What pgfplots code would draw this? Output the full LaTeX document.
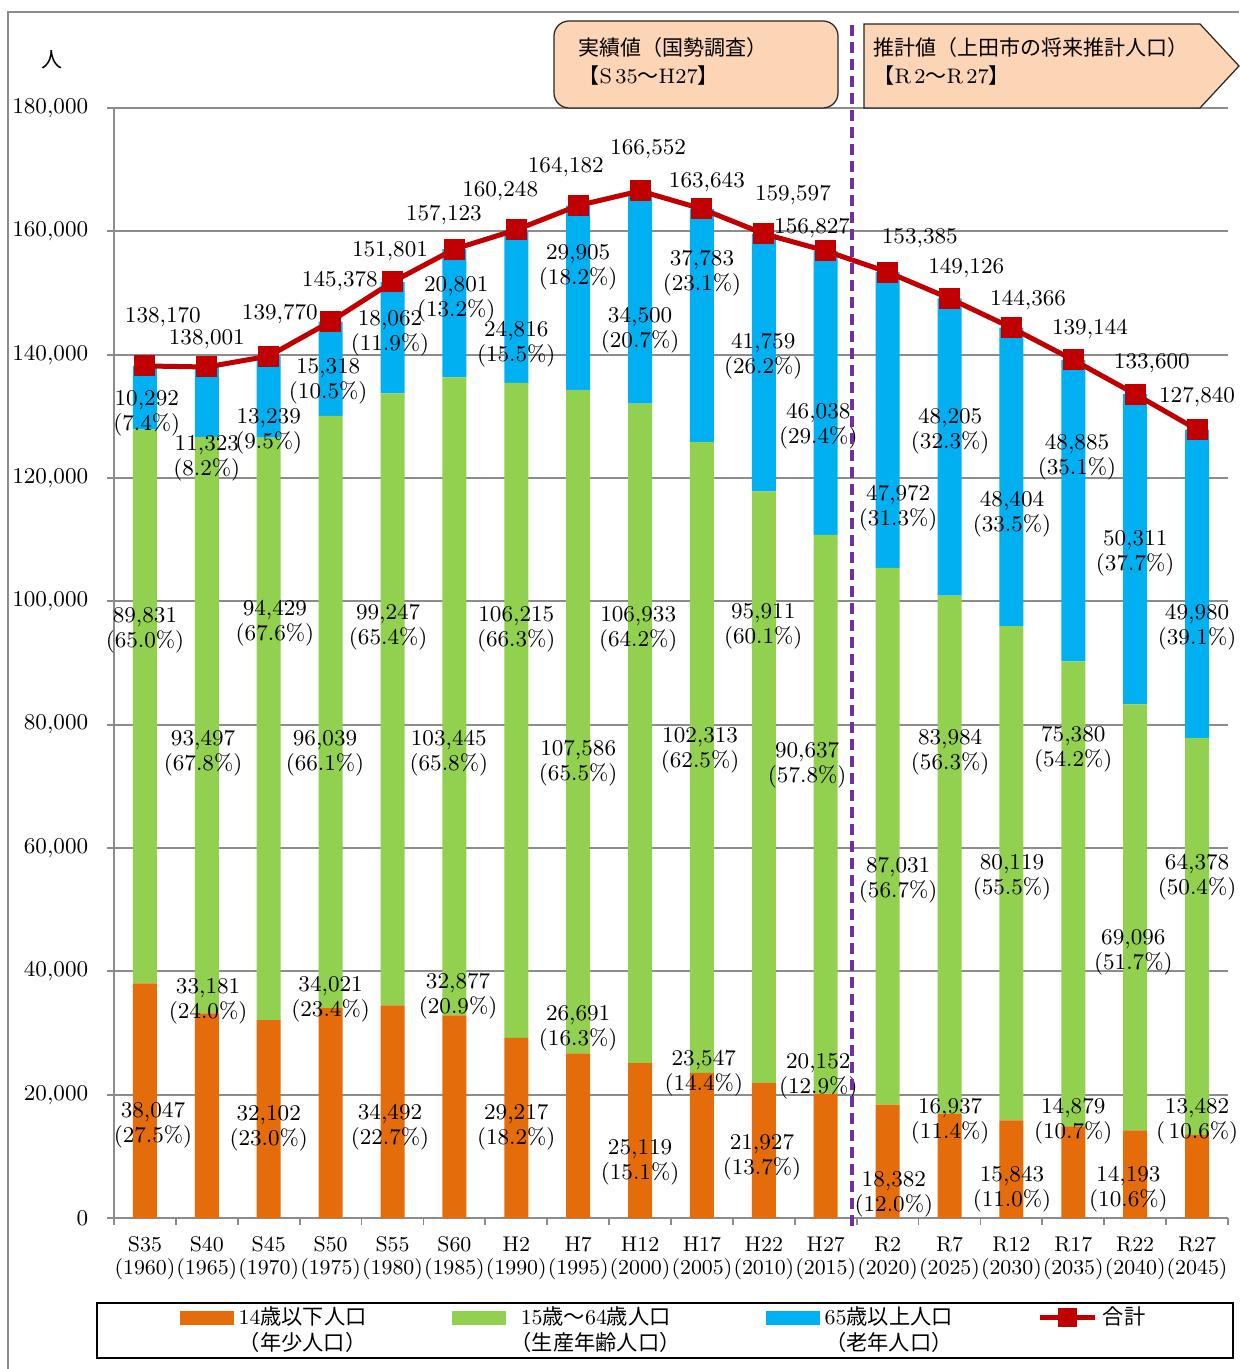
\documentclass[border=0pt]{standalone}
\usepackage{fontspec}
\usepackage{pgfplots}
\usepackage{pgfplotstable}
\pgfplotsset{compat=1.18}
\newfontfamily\jp{Noto Sans CJK JP}
\definecolor{cOr}{HTML}{E46C0A}
\definecolor{cGr}{HTML}{92D050}
\definecolor{cBl}{HTML}{00B0F0}
\definecolor{cRd}{HTML}{C00000}
\definecolor{cPu}{HTML}{7030A0}
\definecolor{cBox}{HTML}{FBD5B5}
\definecolor{cGrid}{HTML}{8C8C8C}

\pgfplotstableread{
x young work old total
0 38047 89831 10292 138170
1 33181 93497 11323 138001
2 32102 94429 13239 139770
3 34021 96039 15318 145378
4 34492 99247 18062 151801
5 32877 103445 20801 157123
6 29217 106215 24816 160248
7 26691 107586 29905 164182
8 25119 106933 34500 166552
9 23547 102313 37783 163643
10 21927 95911 41759 159597
11 20152 90637 46038 156827
12 18382 87031 47972 153385
13 16937 83984 48205 149126
14 15843 80119 48404 144366
15 14879 75380 48885 139144
16 14193 69096 50311 133600
17 13482 64378 49980 127840
}\data

\tikzset{lbl/.style={font=\fontsize{9}{10}\selectfont, align=center, inner sep=0pt, yshift=-1.2pt}}
\newcommand\lab[4]{\node[lbl] at (axis cs:#1,#2) {#3\\(#4\%)};}
\newcommand\tot[3]{\node[lbl] at (axis cs:#1,#2) {#3};}

\pgfplotsset{
  common/.style={
    at={(45.6pt,-487.2pt)}, anchor=south west,
    scale only axis, width=445.6pt, height=444pt,
    xmin=-0.5, xmax=17.5, ymin=0, ymax=180000,
  }
}

\begin{document}
\begin{tikzpicture}
\path[use as bounding box] (0,0) rectangle (495.6pt,-547.6pt);
\begin{scope}[x=0.4pt,y=-0.4pt]
\draw[cGrid, line width=0.6pt] (8,1369) -- (8,12) -- (1239,12);
\node[font=\fontsize{8.4}{10}\selectfont] at (52,60) {\jp 人};
\end{scope}

\begin{axis}[common,
  ybar stacked, bar width=9.6pt,
  axis x line*=bottom, axis y line*=left,
  axis line style={-, draw=cGrid, line width=0.7pt},
  ymajorgrids, major grid style={draw=cGrid, line width=0.7pt},
  tick align=outside, major tick length=2.8pt, minor tick length=2.8pt,
  tick style={draw=cGrid, line width=0.7pt},
  ytick={0,20000,...,180000},
  scaled y ticks=false,
  yticklabel={\pgfmathprintnumber[fixed,precision=0,1000 sep={,},assume math mode=true]{\tick}},
  yticklabel style={font=\fontsize{9}{10}\selectfont, xshift=-4pt},
  xtick={0,...,17},
  major x tick style={draw=none},
  minor xtick={-0.5,0.5,...,17.5},
  xticklabels={{S35\\(1960)},{S40\\(1965)},{S45\\(1970)},{S50\\(1975)},{S55\\(1980)},{S60\\(1985)},{H2\\(1990)},{H7\\(1995)},{H12\\(2000)},{H17\\(2005)},{H22\\(2010)},{H27\\(2015)},{R2\\(2020)},{R7\\(2025)},{R12\\(2030)},{R17\\(2035)},{R22\\(2040)},{R27\\(2045)}},
  xticklabel style={align=center, font=\fontsize{8.5}{9.2}\selectfont, yshift=-1.2pt},
]
\addplot[fill=cOr, draw=none] table[x=x,y=young]{\data};
\addplot[fill=cGr, draw=none] table[x=x,y=work]{\data};
\addplot[fill=cBl, draw=none] table[x=x,y=old]{\data};
\end{axis}

\begin{axis}[common, hide axis, clip=false,
  legend columns=4,
  legend style={at={(axis description cs:0.4946,-0.0757)}, anchor=north,
    draw=black, line width=0.6pt, inner xsep=33pt, inner ysep=0.5pt,
    font=\fontsize{8.5}{10.4}\selectfont,
    nodes={align=center, inner ysep=1pt},
    /tikz/every even column/.append style={column sep=32pt}},
]
\addlegendimage{legend image code/.code={\path (0pt,-6pt); \fill[cOr] (0pt,2.4pt) rectangle (21pt,7.6pt);}}
\addlegendentry{14{\jp 歳以下人口}\\{\jp （年少人口）}}
\addlegendimage{legend image code/.code={\path (0pt,-6pt); \fill[cGr] (0pt,2.4pt) rectangle (21pt,7.6pt);}}
\addlegendentry{15{\jp 歳～}64{\jp 歳人口}\\{\jp （生産年齢人口）}}
\addlegendimage{legend image code/.code={\path (0pt,-6pt); \fill[cBl] (0pt,2.4pt) rectangle (21pt,7.6pt);}}
\addlegendentry{65{\jp 歳以上人口}\\{\jp （老年人口）}}
\addlegendimage{legend image code/.code={\path (0pt,-6pt); \draw[cRd, line width=2pt] (0pt,5pt) -- (22pt,5pt); \fill[cRd] (7.5pt,1.5pt) rectangle (14.5pt,8.5pt);}}
\addlegendentry{{\jp 合計}\\\strut}
\addplot[cRd, line width=2pt, mark=square*, mark size=4pt, mark options={fill=cRd, draw=cRd, line width=0pt}, forget plot]
  table[x=x,y=total]{\data};

\tot{0.29}{146600}{138,170}
\tot{1.0}{143000}{138,001}
\tot{2.18}{147100}{139,770}
\tot{3.15}{152400}{145,378}
\tot{3.96}{157300}{151,801}
\tot{4.83}{163100}{157,123}
\tot{5.74}{167000}{160,248}
\tot{6.8}{170900}{164,182}
\tot{8.13}{173800}{166,552}
\tot{9.08}{168500}{163,643}
\tot{10.47}{166400}{159,597}
\tot{10.78}{161000}{156,827}
\tot{12.52}{159400}{153,385}
\tot{13.27}{154500}{149,126}
\tot{14.27}{149400}{144,366}
\tot{15.27}{144600}{139,144}
\tot{16.27}{139100}{133,600}
\tot{17}{133600}{127,840}

\lab{0.13}{15600}{38,047}{27.5}
\lab{1.02}{35700}{33,181}{24.0}
\lab{2.0}{15100}{32,102}{23.0}
\lab{3.0}{36000}{34,021}{23.4}
\lab{3.96}{15200}{34,492}{22.7}
\lab{5.06}{36500}{32,877}{20.9}
\lab{6}{15200}{29,217}{18.2}
\lab{7}{31300}{26,691}{16.3}
\lab{8}{9600}{25,119}{15.1}
\lab{9.03}{24000}{23,547}{14.4}
\lab{9.97}{10400}{21,927}{13.7}
\lab{10.88}{23400}{20,152}{12.9}
\lab{12.1}{4400}{18,382}{12.0}
\lab{13.01}{16200}{16,937}{11.4}
\lab{14.01}{5200}{15,843}{11.0}
\lab{15}{16200}{14,879}{10.7}
\lab{15.89}{5200}{14,193}{10.6}
\lab{17}{16200}{13,482}{\,10.6}

\lab{0}{95800}{89,831}{65.0}
\lab{0.94}{75900}{93,497}{67.8}
\lab{2.10}{97000}{94,429}{67.6}
\lab{2.91}{75900}{96,039}{66.1}
\lab{3.93}{96300}{99,247}{65.4}
\lab{4.91}{75900}{103,445}{65.8}
\lab{6}{96000}{106,215}{66.3}
\lab{7}{74300}{107,586}{65.5}
\lab{7.97}{96000}{106,933}{64.2}
\lab{8.97}{76400}{102,313}{62.5}
\lab{9.99}{96500}{95,911}{60.1}
\lab{10.7}{73900}{90,637}{57.8}
\lab{12.17}{55300}{87,031}{56.7}
\lab{13.01}{76100}{83,984}{56.3}
\lab{14.01}{55800}{80,119}{55.5}
\lab{15}{76500}{75,380}{54.2}
\lab{15.97}{43600}{69,096}{51.7}
\lab{17}{55800}{64,378}{50.4}

\lab{0.03}{131000}{10,292}{7.4}
\lab{1.0}{123600}{11,323}{8.2}
\lab{2.0}{128100}{13,239}{9.5}
\lab{2.96}{136200}{15,318}{10.5}
\lab{3.96}{144000}{18,062}{11.9}
\lab{5.03}{149400}{20,801}{13.2}
\lab{6}{142200}{24,816}{15.5}
\lab{7}{154700}{29,905}{18.2}
\lab{8}{144500}{34,500}{20.7}
\lab{9}{153700}{37,783}{23.1}
\lab{9.99}{140300}{41,759}{26.2}
\lab{10.88}{128900}{46,038}{29.4}
\lab{12.17}{115600}{47,972}{31.3}
\lab{13.01}{128100}{48,205}{32.3}
\lab{14.01}{114600}{48,404}{33.5}
\lab{15.06}{123900}{48,885}{35.1}
\lab{16}{108300}{50,311}{37.7}
\lab{17}{96300}{49,980}{39.1}
\end{axis}

\begin{scope}[x=0.4pt,y=-0.4pt]
\draw[cPu, line width=1.4pt, dash pattern=on 4.4pt off 2.4pt] (852,25) -- (852,1226);
\draw[fill=cBox, draw=black!85, line width=0.5pt, rounded corners=6pt] (554,21) rectangle (838,108);
\draw[fill=cBox, draw=black!85, line width=0.5pt] (864,24) -- (1200,24) -- (1239,66) -- (1200,108) -- (864,108) -- cycle;
\node[anchor=west, inner sep=0pt, font=\fontsize{8.4}{10}\selectfont] at (578,48) {\jp 実績値（国勢調査）};
\node[anchor=west, inner sep=0pt, font=\fontsize{8.4}{10}\selectfont] at (578,76) {{\jp 【}S\,35{\jp ～}H27{\jp 】}};
\node[anchor=west, inner sep=0pt, font=\fontsize{8.4}{10}\selectfont] at (873,48) {\jp 推計値（上田市の将来推計人口）};
\node[anchor=west, inner sep=0pt, font=\fontsize{8.4}{10}\selectfont] at (873,76) {{\jp 【}R\,2{\jp ～}R\,27{\jp 】}};
\end{scope}
\end{tikzpicture}
\end{document}
